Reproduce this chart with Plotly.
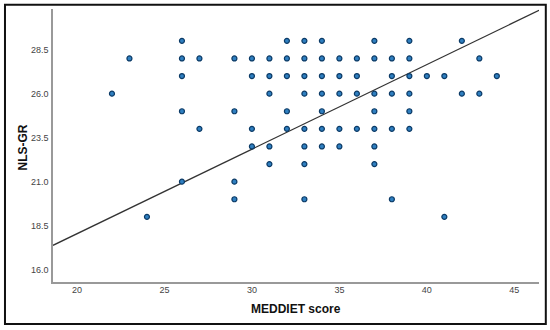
import plotly.graph_objects as go

# MEDDIET score (x) and NLS-GR (y), grouped by row
row_29 = [26, 32, 33, 34, 37, 39, 42]
row_28 = [23, 26, 27, 29, 30, 31, 32, 33, 34, 35, 36, 37, 38, 39, 43]
row_27 = [26, 30, 31, 32, 33, 34, 35, 36, 38, 39, 40, 41, 44]
row_26 = [22, 31, 33, 34, 35, 36, 37, 38, 39, 42, 43]
row_25 = [26, 29, 32, 34, 37, 39]
row_24 = [27, 30, 32, 33, 34, 35, 36, 37, 38, 39]
row_23 = [30, 31, 33, 34, 35, 37]
row_22 = [31, 33, 37]
row_21 = [26, 29]
row_20 = [29, 33, 38]
row_19 = [24, 41]

rows = {29: row_29, 28: row_28, 27: row_27, 26: row_26, 25: row_25, 24: row_24,
        23: row_23, 22: row_22, 21: row_21, 20: row_20, 19: row_19}

meddiet = []
nlsgr = []
for yv, xs in rows.items():
    for xv in xs:
        meddiet.append(xv)
        nlsgr.append(yv)

# fit line
fit_slope = 0.4806
fit_intercept = 8.43

x_range = [18.63, 46.41]
y_range = [15.3, 30.81]
x_ticks = [20, 25, 30, 35, 40, 45]
y_ticks = [16.0, 18.5, 21.0, 23.5, 26.0, 28.5]

fit_x = x_range
fit_y = [fit_intercept + fit_slope * v for v in fit_x]

fig = go.Figure()
fig.add_trace(go.Scatter(
    x=fit_x, y=fit_y, mode="lines",
    line=dict(color="#333333", width=1.3),
    hoverinfo="skip", showlegend=False, cliponaxis=True,
))
fig.add_trace(go.Scatter(
    x=meddiet, y=nlsgr, mode="markers",
    marker=dict(size=5, color="#2f7fc0", line=dict(color="#0b3a66", width=1.2)),
    showlegend=False,
))

font_family = "Arial, Liberation Sans, sans-serif"

fig.update_layout(
    width=550, height=330,
    margin=dict(l=53, r=11, t=9, b=48),
    paper_bgcolor="white", plot_bgcolor="white",
    font=dict(family=font_family, color="#333333"),
    xaxis=dict(
        range=x_range, tickvals=x_ticks, ticktext=[str(v) for v in x_ticks],
        showgrid=False, zeroline=False, showline=True, linecolor="#999999", linewidth=1.5,
        ticks="", tickfont=dict(size=9, color="#444444"), ticklabelstandoff=-2,
    ),
    yaxis=dict(
        range=y_range, tickvals=y_ticks, ticktext=[f"{v:.1f}" for v in y_ticks],
        showgrid=False, zeroline=False, showline=True, linecolor="#999999", linewidth=1.5,
        ticks="", tickfont=dict(size=9, color="#444444"), ticklabelstandoff=1,
    ),
    annotations=[
        dict(text="<b>MEDDIET score</b>", xref="paper", yref="paper", x=0.5, y=0,
             xanchor="center", yanchor="middle", yshift=-27, showarrow=False,
             font=dict(size=12, color="#111111")),
        dict(text="<b>NLS-GR</b>", xref="paper", yref="paper", x=0, y=0.5,
             xanchor="center", yanchor="middle", xshift=-31, yshift=-2, textangle=-90,
             showarrow=False, font=dict(size=12, color="#111111")),
    ],
    shapes=[dict(
        type="rect", xref="paper", yref="paper",
        x0=-0.0988, x1=1.014, y0=-0.1535, y1=1.0158,
        line=dict(color="#111111", width=2), fillcolor="rgba(0,0,0,0)", layer="above",
    )],
)

fig.write_html(
    "out.html",
    config={"displayModeBar": False},
    post_script="document.body.style.margin='0';document.body.style.overflow='hidden';",
)
